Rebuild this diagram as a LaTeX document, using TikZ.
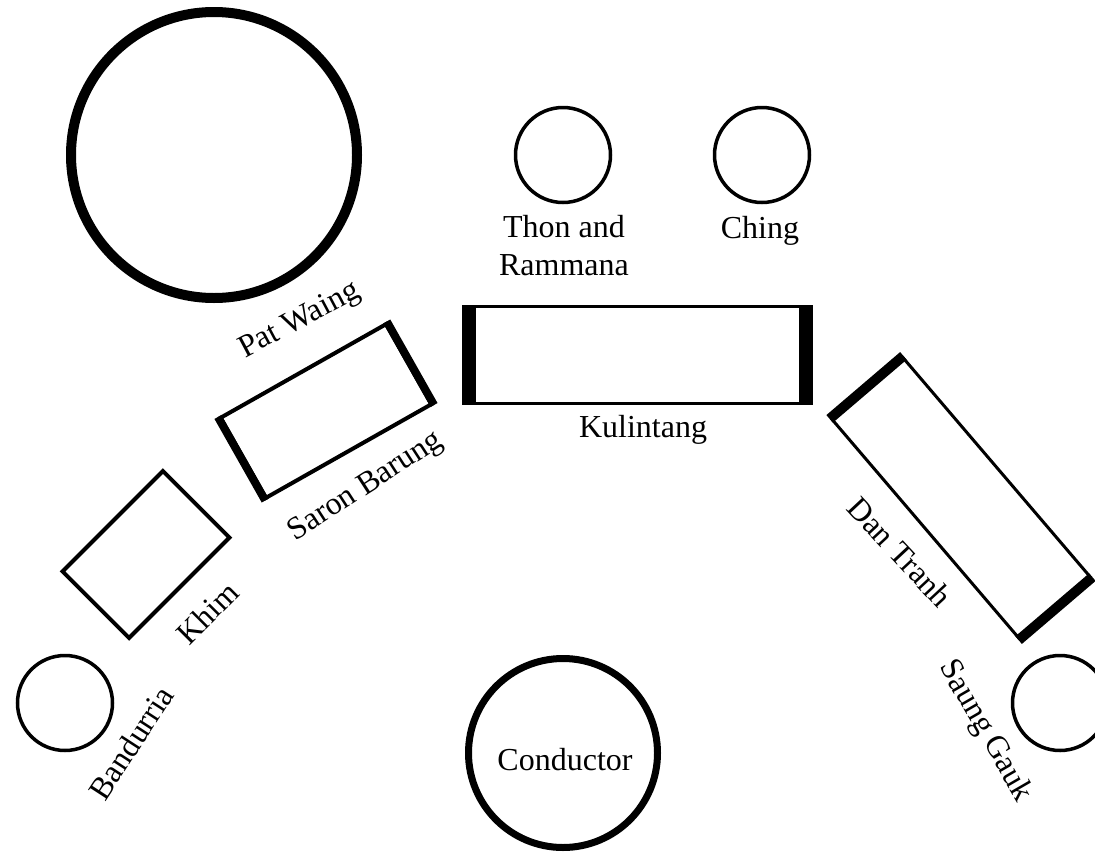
\documentclass[tikz,border=0pt]{standalone}
\usepackage{fontspec}
\setmainfont{Liberation Serif}
\begin{document}
\begin{tikzpicture}[x=1pt,y=-1pt,
  ring/.style={circle,draw,inner sep=0pt,line width=3.5pt,minimum size=95pt},
  lbl/.style={font=\fontsize{32}{38}\selectfont,inner sep=0pt},
  box/.style={rectangle,draw,inner sep=0pt}]
\fill[white] (0,0) rectangle (1095,854);
\useasboundingbox (0,0) rectangle (1095,854);
% circles
\node[ring,line width=10pt,minimum size=286pt] (patwaing) at (214,155) {};
\node[ring] (thon) at (563,155) {};
\node[ring] (ching) at (762,155) {};
\node[ring] (bandurria) at (65,703) {};
\node[ring] (saunggauk) at (1060,703) {};
\node[ring,line width=7pt,minimum size=189pt] (conductor) at (563,753) {};
% Kulintang
\node[box,line width=3pt,minimum width=345pt,minimum height=97pt] (kulintang) at (637,355) {};
\draw[line width=14pt] ([xshift=5.5pt]kulintang.north west) -- ([xshift=5.5pt]kulintang.south west);
\draw[line width=14pt] ([xshift=-5.5pt]kulintang.north east) -- ([xshift=-5.5pt]kulintang.south east);
% Saron Barung
\node[box,line width=4pt,minimum width=190pt,minimum height=92pt,rotate=29.5] (saron) at (326,411) {};
\draw[line width=8pt] (saron.north west) -- (saron.south west);
\draw[line width=8pt] (saron.north east) -- (saron.south east);
% Khim
\node[box,line width=4pt,minimum width=142pt,minimum height=94pt,rotate=45] (khim) at (146,554.5) {};
% Dan Tranh
\node[box,line width=3pt,minimum width=288pt,minimum height=94pt,rotate=-49.5] (dantranh) at (961,498) {};
\draw[line width=10pt] (dantranh.north west) -- (dantranh.south west);
\draw[line width=10pt] (dantranh.north east) -- (dantranh.south east);
% labels
\node[lbl,rotate=28] (patwaingl) at (300,321) {Pat Waing};
\node[lbl,align=center] (thonl) at (564,246) {Thon and\\Rammana};
\node[lbl,anchor=base] (chingl) at (760,238) {Ching};
\node[lbl,anchor=base] (kulintangl) at (643,437) {Kulintang};
\node[lbl,rotate=33] (saronl) at (366,487) {Saron Barung};
\node[lbl,rotate=45] (khiml) at (207,613) {Khim};
\node[lbl,rotate=57] (bandurrial) at (131,743) {Bandurria};
\node[lbl,rotate=-47] (dantranhl) at (900,552) {Dan Tranh};
\node[lbl,rotate=-60] (saunggaukl) at (985,731) {Saung Gauk};
\node[lbl] (conductorl) at (565,760) {Conductor};
\end{tikzpicture}
\end{document}
